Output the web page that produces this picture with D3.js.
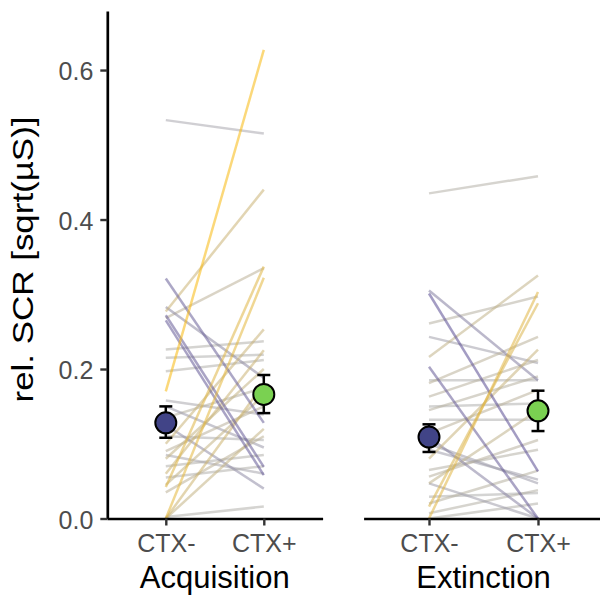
<!DOCTYPE html>
<html>
<head>
<meta charset="utf-8">
<script src="https://cdn.jsdelivr.net/npm/d3@7"></script>
<style>
  html, body { margin: 0; padding: 0; background: #ffffff; }
  svg { display: block; font-family: "Liberation Sans", Arial, sans-serif; }
</style>
</head>
<body>
<svg id="chart" width="600" height="596"></svg>
<script>
// Conditions and phases
const conditions = ["CTX-", "CTX+"];
const phases = ["Acquisition", "Extinction"];
const yTicks = [0, 0.2, 0.4, 0.6];

// Per-participant responses, acquisition phase
const acqMinus = [0.533, 0.170, 0.277, 0.000, 0.042, 0.268, 0.321, 0.283, 0.272, 0.265,
                  0.125, 0.226, 0.215, 0.197, 0.158, 0.100, 0.060, 0.080, 0.045, 0.090,
                  0.110, 0.070, 0.085, 0.055, 0.002, 0.000, 0.000, 0.135, 0.035, 0.150];
const acqPlus  = [0.515, 0.627, 0.440, 0.322, 0.337, 0.335, 0.128, 0.188, 0.069, 0.058,
                  0.040, 0.237, 0.219, 0.212, 0.139, 0.253, 0.225, 0.200, 0.165, 0.150,
                  0.105, 0.085, 0.060, 0.070, 0.016, 0.120, 0.180, 0.175, 0.110, 0.095];

// Per-participant responses, extinction phase
const extMinus = [0.435, 0.305, 0.301, 0.203, 0.109, 0.000, 0.261, 0.216, 0.181, 0.185,
                  0.163, 0.145, 0.132, 0.080, 0.065, 0.029, 0.020, 0.100, 0.047, 0.056,
                  0.150, 0.114, 0.007, 0.092, 0.243, 0.016, 0.000, 0.047];
const extPlus  = [0.458, 0.185, 0.063, 0.000, 0.000, 0.303, 0.297, 0.325, 0.243, 0.185,
                  0.212, 0.190, 0.132, 0.226, 0.092, 0.034, 0.064, 0.047, 0.000, 0.105,
                  0.154, 0.172, 0.038, 0.052, 0.208, 0.288, 0.020, 0.145];

// Group means with error bar limits (CTX-, CTX+)
const acqMean = [0.128, 0.166];
const acqLow  = [0.108, 0.141];
const acqHigh = [0.150, 0.192];
const extMean = [0.109, 0.144];
const extLow  = [0.089, 0.117];
const extHigh = [0.126, 0.171];

const pointColors = ["#414487", "#7AD151"];

const svg = d3.select("#chart");

const y = d3.scaleLinear().domain([0, 0.679]).range([518.5, 11]);

// Line colour follows the CTX+ minus CTX- difference
const diffColor = d3.scaleLinear()
  .domain([-0.25, 0, 0.45])
  .range(["#52468f", "#b0b0b0", "#f7b80c"])
  .clamp(true);

const panels = [
  { name: phases[0], range: [107, 322.6], minus: acqMinus, plus: acqPlus,
    mean: acqMean, low: acqLow, high: acqHigh, yAxis: true },
  { name: phases[1], range: [363.6, 603.4], minus: extMinus, plus: extPlus,
    mean: extMean, low: extLow, high: extHigh, yAxis: false }
];

panels.forEach(p => {
  const x = d3.scalePoint().domain(conditions).range(p.range).padding(0.6);
  const g = svg.append("g");

  const pairs = p.minus.map((m, i) => ({ a: m, b: p.plus[i], d: p.plus[i] - m }));
  // draw smaller differences first so stronger lines sit on top
  pairs.sort((u, v) => Math.abs(u.d) - Math.abs(v.d));

  g.selectAll("line.subj").data(pairs).enter().append("line")
    .attr("class", "subj")
    .attr("x1", x(conditions[0])).attr("x2", x(conditions[1]))
    .attr("y1", d => y(d.a)).attr("y2", d => y(d.b))
    .attr("stroke", d => diffColor(d.d))
    .attr("stroke-opacity", 0.55)
    .attr("stroke-width", 2.5);

  // x axis
  const xAxis = g.append("g")
    .attr("transform", `translate(0,${y(0)})`)
    .call(d3.axisBottom(x).tickSize(7).tickSizeOuter(0));
  xAxis.select(".domain").attr("stroke", "#000").attr("stroke-width", 2.7);
  xAxis.selectAll(".tick line").attr("stroke", "#333").attr("stroke-width", 2.4);
  xAxis.selectAll(".tick text")
    .attr("y", 33).attr("dy", null)
    .attr("fill", "#4d4d4d")
    .style("font-size", "25px");

  if (p.yAxis) {
    const yAxis = g.append("g")
      .attr("transform", `translate(${p.range[0] + 0.3},0)`)
      .call(d3.axisLeft(y).tickValues(yTicks).tickFormat(d3.format(".1f"))
        .tickSize(7).tickSizeOuter(0).tickPadding(7));
    yAxis.select(".domain").attr("stroke", "#000").attr("stroke-width", 2.7);
    yAxis.selectAll(".tick line").attr("stroke", "#333").attr("stroke-width", 2.4);
    yAxis.selectAll(".tick text")
      .attr("dy", "0.38em")
      .attr("fill", "#4d4d4d")
      .style("font-size", "25px");
  }

  // error bars
  const eb = g.selectAll("g.err").data(conditions).enter().append("g").attr("class", "err");
  eb.append("line")
    .attr("x1", c => x(c)).attr("x2", c => x(c))
    .attr("y1", (c, i) => y(p.low[i])).attr("y2", (c, i) => y(p.high[i]))
    .attr("stroke", "#000").attr("stroke-width", 2.5);
  [p.low, p.high].forEach(arr => {
    eb.append("line")
      .attr("x1", c => x(c) - 6.5).attr("x2", c => x(c) + 6.5)
      .attr("y1", (c, i) => y(arr[i])).attr("y2", (c, i) => y(arr[i]))
      .attr("stroke", "#000").attr("stroke-width", 2.5);
  });

  // group means
  g.selectAll("circle.mean").data(conditions).enter().append("circle")
    .attr("class", "mean")
    .attr("cx", c => x(c))
    .attr("cy", (c, i) => y(p.mean[i]))
    .attr("r", 10.5)
    .attr("fill", (c, i) => pointColors[i])
    .attr("stroke", "#000").attr("stroke-width", 2);

  // panel title
  g.append("text")
    .attr("x", (x(conditions[0]) + x(conditions[1])) / 2)
    .attr("y", 588)
    .attr("text-anchor", "middle")
    .attr("fill", "#000")
    .style("font-size", "31px")
    .text(p.name);
});

// y axis title
svg.append("text")
  .attr("transform", "translate(33,259.5) rotate(-90)")
  .attr("text-anchor", "middle")
  .attr("fill", "#000")
  .attr("textLength", 286)
  .attr("lengthAdjust", "spacingAndGlyphs")
  .style("font-size", "29px")
  .text("rel. SCR [sqrt(µS)]");
</script>
</body>
</html>
